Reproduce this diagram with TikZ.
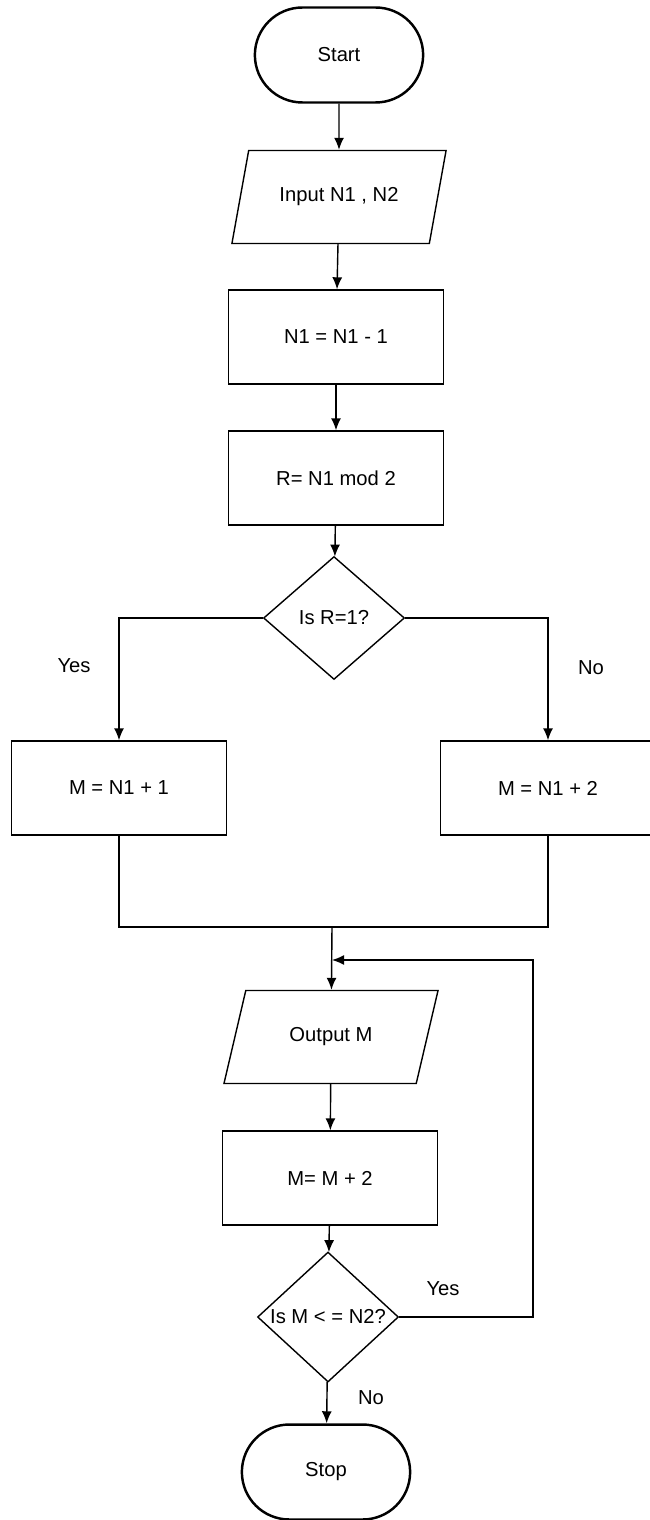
\documentclass[tikz,border=0pt]{standalone}
\usepackage{fontspec}
\setmainfont{Liberation Sans}
\usepackage{tikz}
\usetikzlibrary{arrows.meta,shapes.geometric,shapes.misc}

\begin{document}
\begin{tikzpicture}[x=0.02cm,y=-0.02cm,line width=0.8pt,font=\fontsize{11.5}{13}\selectfont,
    >={Latex[length=0.24cm,width=0.2cm]}]
       \tikzstyle{terminal}=[rounded rectangle,draw,line width=1.4pt,minimum width=3.6cm,minimum height=1.9cm]
       \tikzstyle{io}=[trapezium,trapezium left angle=68,trapezium right angle=112,trapezium stretches=true,draw,minimum width=4.3cm,minimum height=1.86cm]
       \tikzstyle{process}=[rectangle,draw,minimum width=4.3cm,minimum height=1.88cm]
       \tikzstyle{decision}=[diamond,draw,inner sep=0pt,minimum width=2.82cm,minimum height=2.46cm]

       \useasboundingbox (0,0) rectangle (649,1520);

       \node[terminal] (start) at (339,55) {Start};
       \node[io] (input) at (339,197) {Input N1 , N2};
       \node[process] (n1) at (336,337) {N1 = N1 - 1};
       \node[process] (r) at (336,478) {R= N1 mod 2};
       \node[decision] (isr) at (334,618) {Is R=1?};
       \node[process] (m1) at (119,788) {M = N1 + 1};
       \node[process] (m2) at (548,788) {M = N1 + 2};
       \coordinate (merge) at (332,927);
       \coordinate (loopin) at (332,960);
       \coordinate (loopx) at (533,960);
       \node[io] (output) at (331,1037) {Output M};
       \node[process] (mm) at (330,1178) {M= M + 2};
       \node[decision] (ism) at (328,1317) {Is M < = N2?};
       \node[terminal] (stop) at (326,1472) {Stop};

       \node (yes1) at (74,666) {Yes};
       \node (no1) at (591,668) {No};
       \node (yes2) at (443,1289) {Yes};
       \node (no2) at (371,1398) {No};

       \path[->]
       (start) edge (input)
       (input) edge (n1)
       (n1) edge (r)
       (r) edge (isr);

       \draw[->] (isr.west) -| (m1.north);
       \draw[->] (isr.east) -| (m2.north);
       \draw (m1.south) |- (merge);
       \draw (m2.south) |- (merge);
       \draw[->] (merge) -- (output);

       \path[->]
       (output) edge (mm)
       (mm) edge (ism)
       (ism) edge (stop);

       \draw[->] (ism.east) -| (loopx) -- (loopin);

     \end{tikzpicture}
\end{document}
